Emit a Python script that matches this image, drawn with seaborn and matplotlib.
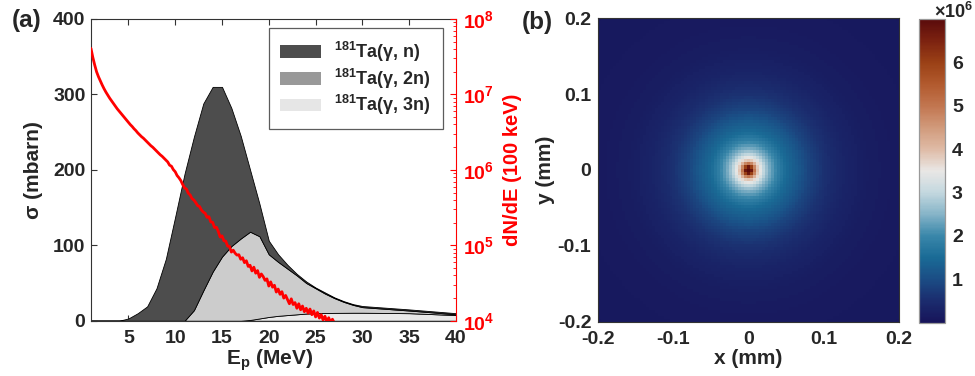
import numpy as np
import matplotlib
matplotlib.use("Agg")
import matplotlib.pyplot as plt
import seaborn as sns
from matplotlib.colors import LinearSegmentedColormap
from matplotlib.patches import Patch
from matplotlib.ticker import FixedLocator, LogLocator, NullFormatter, FixedFormatter

# ---------------- data ----------------
# cross sections (mbarn) vs photon energy (MeV)
E_xs = [1, 4, 5, 6, 7, 8, 9, 10, 11, 12, 13, 14, 15, 16, 17, 18, 19, 20,
        21, 22, 23, 24, 25, 26, 27, 28, 29, 30, 35, 40]
sigma_n = [0, 0, 3, 10, 19, 43, 82, 138, 195, 230, 248, 245, 225, 183, 136, 82,
           43, 18, 10, 5, 2, 2, 1, 1.5, 1, 1, 1, 1.5, 1.5, 1.5]
sigma_2n = [0, 0, 0, 0, 0, 0, 0, 0, 0, 14, 40, 65, 85, 99, 109, 117,
            109, 83, 71.5, 61.5, 51.5, 40.5, 33, 25.8, 19.6, 14.5, 10.4, 7.4, 3.5, 1]
sigma_3n = [0, 0, 0, 0, 0, 0, 0, 0, 0, 0, 0, 0, 0, 0, 0, 1,
            3, 5, 6.5, 7.5, 8.5, 9.5, 10, 10.2, 10.4, 10.5, 10.6, 10.6, 10, 7.5]
legend_labels = [r"$^{181}$Ta(γ, n)", r"$^{181}$Ta(γ, 2n)", r"$^{181}$Ta(γ, 3n)"]

# bremsstrahlung spectrum, log10(dN/dE per 100 keV); E = 1.0 ... 27.0 MeV, step 0.2
spec_log10 = [
    7.61, 7.49, 7.39, 7.30, 7.235,
    7.18, 7.125, 7.075, 7.03, 6.99,
    6.95, 6.915, 6.88, 6.845, 6.81,
    6.78, 6.75, 6.72, 6.69, 6.66,
    6.63, 6.60, 6.575, 6.545, 6.52,
    6.49, 6.465, 6.44, 6.42, 6.395,
    6.37, 6.345, 6.32, 6.30, 6.275,
    6.25, 6.225, 6.20, 6.18, 6.155,
    6.13, 6.105, 6.062, 6.048, 6.003,
    5.975, 5.925, 5.895, 5.858, 5.805,
    5.762, 5.745, 5.69, 5.667, 5.618,
    5.60, 5.565, 5.525, 5.515, 5.468,
    5.44, 5.425, 5.37, 5.38, 5.31,
    5.305, 5.235, 5.24, 5.185, 5.11,
    5.125, 5.06, 5.055, 4.99, 4.985,
    4.91, 4.935, 4.895, 4.87, 4.875,
    4.815, 4.835, 4.77, 4.795, 4.72,
    4.735, 4.66, 4.71, 4.63, 4.665,
    4.575, 4.62, 4.585, 4.535, 4.555,
    4.46, 4.515, 4.445, 4.47, 4.38,
    4.42, 4.35, 4.385, 4.30, 4.335,
    4.28, 4.225, 4.29, 4.215, 4.24,
    4.165, 4.225, 4.145, 4.195, 4.12,
    4.165, 4.10, 4.155, 4.08, 4.13,
    4.05, 4.11, 4.035, 4.08, 4.01,
    4.06, 3.985, 4.04, 3.98, 4.02,
    3.97]
E_spec = np.round(np.arange(len(spec_log10)) * 0.2 + 1.0, 1)

# beam spot radial profile (x1e6) vs radius (mm)
r_prof = [0.0, 0.004, 0.008, 0.012, 0.016, 0.02, 0.025, 0.03, 0.04, 0.05,
          0.066, 0.08, 0.10, 0.13, 0.16, 0.20, 0.30]
v_prof = [7.0, 6.7, 5.0, 3.9, 3.45, 3.0, 2.6, 2.3, 1.85, 1.5,
          1.2, 0.9, 0.6, 0.35, 0.22, 0.15, 0.10]
xy_ticks = [-0.2, -0.1, 0, 0.1, 0.2]
xy_ticklabels = ["-0.2", "-0.1", "0", "0.1", "0.2"]
cb_ticks = [1, 2, 3, 4, 5, 6]

# ---------------- style ----------------
sns.set_theme(style="ticks")
plt.rcParams['font.family'] = ['Liberation Sans', 'DejaVu Sans']
plt.rcParams['font.weight'] = 'bold'
plt.rcParams['axes.labelweight'] = 'bold'
plt.rcParams['mathtext.fontset'] = 'custom'
plt.rcParams['mathtext.rm'] = 'Liberation Sans:bold'
plt.rcParams['mathtext.it'] = 'Liberation Sans:bold'
plt.rcParams['mathtext.bf'] = 'Liberation Sans:bold'
plt.rcParams['mathtext.default'] = 'rm'

TICK = 14
LAB = 15

fig = plt.figure(figsize=(9.75, 3.76), dpi=100)
ax1 = fig.add_axes([0.0933, 0.147, 0.3744, 0.8025])
axr = ax1.twinx()
ax2 = fig.add_axes([0.6136, 0.1444, 0.3087, 0.807])
cax = fig.add_axes([0.9429, 0.1418, 0.0264, 0.8077])

# ---------------- panel (a) ----------------
fills = ['#4d4d4d', '#cccccc', '#e9e9e9']
leg_cols = ['#4d4d4d', '#999999', '#e6e6e6']
ax1.stackplot(E_xs, sigma_3n, sigma_2n, sigma_n,
              colors=[fills[2], fills[1], fills[0]],
              edgecolor='black', linewidth=0.6)
ax1.set_xlim(1, 40)
ax1.set_ylim(0, 400)
ax1.xaxis.set_major_locator(FixedLocator([5, 10, 15, 20, 25, 30, 35, 40]))
ax1.yaxis.set_major_locator(FixedLocator([0, 100, 200, 300, 400]))
ax1.tick_params(axis='both', direction='in', labelsize=TICK, length=4,
                width=0.8, color='#333333', top=True, right=False)
ax1.tick_params(axis='x', pad=7)
ax1.tick_params(axis='y', pad=4)
for lab in ax1.get_xticklabels() + ax1.get_yticklabels():
    lab.set_fontweight('bold')
for s in ['left', 'bottom', 'top']:
    ax1.spines[s].set_color('#333333')
    ax1.spines[s].set_linewidth(0.8)
ax1.spines['right'].set_visible(False)
ax1.set_xlabel(r"E$_\mathregular{p}$ (MeV)", fontsize=LAB, fontweight='bold')
ax1.set_ylabel("σ (mbarn)", fontsize=LAB, fontweight='bold')
ax1.yaxis.set_label_coords(-0.1315, 0.5)
ax1.xaxis.set_label_coords(0.49, -0.09)

handles = [Patch(facecolor=c, edgecolor='none') for c in leg_cols]
leg = ax1.legend(handles, legend_labels, loc='upper right',
                 bbox_to_anchor=(0.964, 0.970), borderaxespad=0,
                 fontsize=13, frameon=True, fancybox=False,
                 handlelength=2.25, handleheight=0.7, handletextpad=0.75,
                 labelspacing=0.15, borderpad=0.65)
leg.get_frame().set_edgecolor('#333333')
leg.get_frame().set_linewidth(0.9)
for t in leg.get_texts():
    t.set_fontweight('bold')

# red spectrum on the log right axis
axr.set_yscale('log')
sns.lineplot(x=E_spec, y=10 ** np.array(spec_log10), ax=axr, color='red',
             linewidth=2.0, legend=False)
axr.set_ylim(1e4, 1e8)
axr.set_xlim(1, 40)
axr.yaxis.set_major_locator(FixedLocator([1e4, 1e5, 1e6, 1e7, 1e8]))
axr.yaxis.set_major_formatter(FixedFormatter(["10$^{4}$", "10$^{5}$", "10$^{6}$",
                                              "10$^{7}$", "10$^{8}$"]))
axr.yaxis.set_minor_locator(LogLocator(base=10, subs=np.arange(2, 10)))
axr.yaxis.set_minor_formatter(NullFormatter())
axr.tick_params(axis='y', which='major', direction='in', colors='red',
                labelsize=TICK, length=4, width=0.8, pad=5)
axr.tick_params(axis='y', which='minor', direction='in', colors='red',
                length=2, width=0.6)
for lab in axr.get_yticklabels():
    lab.set_fontweight('bold')
for s in ['left', 'top', 'bottom']:
    axr.spines[s].set_visible(False)
axr.spines['right'].set_color('red')
axr.spines['right'].set_linewidth(0.8)
axr.set_ylabel("dN/dE (100 keV)", fontsize=14.5, fontweight='bold', color='red')
axr.yaxis.set_label_coords(1.129, 0.5)
axr.set_xlabel("")

# ---------------- panel (b) ----------------
cmap = LinearSegmentedColormap.from_list('beam', [
    (0.000, '#17145a'), (0.071, '#1b2c6e'), (0.143, '#1b4d85'),
    (0.214, '#1a6b96'), (0.286, '#3a87aa'), (0.357, '#86b4c8'),
    (0.429, '#c4d8df'), (0.500, '#e9e7e5'), (0.571, '#dfbba6'),
    (0.643, '#d19a7b'), (0.714, '#c27650'), (0.786, '#b25a2e'),
    (0.857, '#9b4116'), (0.930, '#7c2210'), (1.000, '#5a0b0c')])

grid = np.arange(-0.2, 0.2001, 0.004)
GX, GY = np.meshgrid(grid, grid)
R = np.sqrt(GX ** 2 + GY ** 2)
Z = np.interp(R, r_prof, v_prof)
im = ax2.imshow(Z, extent=[-0.2, 0.2, -0.2, 0.2], origin='lower', cmap=cmap,
                vmin=0, vmax=7, interpolation='nearest', aspect='auto')
ax2.set_xlim(-0.2, 0.2)
ax2.set_ylim(-0.2, 0.2)
ax2.xaxis.set_major_locator(FixedLocator(xy_ticks))
ax2.xaxis.set_major_formatter(FixedFormatter(xy_ticklabels))
ax2.yaxis.set_major_locator(FixedLocator(xy_ticks))
ax2.yaxis.set_major_formatter(FixedFormatter(xy_ticklabels))
ax2.tick_params(axis='both', length=0, labelsize=TICK)
ax2.tick_params(axis='x', pad=7)
ax2.tick_params(axis='y', pad=5)
for lab in ax2.get_xticklabels() + ax2.get_yticklabels():
    lab.set_fontweight('bold')
for s in ax2.spines.values():
    s.set_color('#333333')
    s.set_linewidth(0.8)
ax2.set_xlabel("x (mm)", fontsize=LAB, fontweight='bold')
ax2.set_ylabel("y (mm)", fontsize=LAB, fontweight='bold')
ax2.yaxis.set_label_coords(-0.144, 0.5)
ax2.xaxis.set_label_coords(0.497, -0.09)

cb = fig.colorbar(im, cax=cax, ticks=cb_ticks)
cb.outline.set_edgecolor('#999999')
cb.outline.set_linewidth(0.9)
cax.tick_params(direction='in', left=True, right=True, length=4, width=0.8,
                color='#333333', labelsize=TICK, pad=5)
for lab in cax.get_yticklabels():
    lab.set_fontweight('bold')
fig.text(934 / 975, 1 - 12 / 376, "×10$^{6}$", fontsize=13, fontweight='bold',
         ha='left', va='center')

# panel letters
fig.text(12 / 975, 1 - 21 / 376, "(a)", fontsize=17.5, fontweight='bold',
         ha='left', va='center')
fig.text(522 / 975, 1 - 22 / 376, "(b)", fontsize=17.5, fontweight='bold',
         ha='left', va='center')

fig.savefig("out.png", dpi=100)
